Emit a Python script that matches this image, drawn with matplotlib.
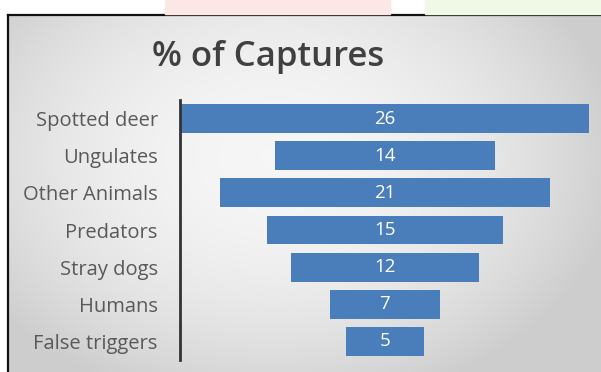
import matplotlib.pyplot as plt
import numpy as np
from matplotlib.patches import Rectangle

categories = ["Spotted deer", "Ungulates", "Other Animals", "Predators",
              "Stray dogs", "Humans", "False triggers"]
values = [26, 14, 21, 15, 12, 7, 5]

W, H = 601, 372
fig = plt.figure(figsize=(W / 100, H / 100), dpi=100)
fig.patch.set_facecolor("white")

# faint watermark blobs above the chart box
fig.patches.append(Rectangle((165 / W, 1 - 14 / H), 225 / W, 14 / H,
                             transform=fig.transFigure, color="#fde6e6", zorder=0))
fig.patches.append(Rectangle((425 / W, 1 - 14 / H), 176 / W, 14 / H,
                             transform=fig.transFigure, color="#eff9e6", zorder=0))

# chart box with radial gray gradient
bx0, by1 = 8 / W, 1 - 15 / H
bg = fig.add_axes([bx0, 0, 1 - bx0, by1])
gx, gy = np.meshgrid(np.linspace(-1, 1, 300), np.linspace(-1, 1, 200))
r = np.clip(np.sqrt(((gx + 0.1) * 0.85) ** 2 + ((gy - 0.2) * 0.7) ** 2), 0, 1)
shade = 0.965 - 0.16 * r ** 2
bg.imshow(np.dstack([shade] * 3), extent=[0, 1, 0, 1], aspect="auto", origin="lower")
bg.set_xlim(0, 1)
bg.set_ylim(0, 1)
bg.set_xticks([])
bg.set_yticks([])
for side in ["right", "bottom"]:
    bg.spines[side].set_visible(False)
for side in ["left", "top"]:
    bg.spines[side].set_color("#111111")
    bg.spines[side].set_linewidth(1.6)

fig.text(268 / W, 1 - 57 / H, "% of Captures", ha="center", va="center",
         fontsize=25, fontfamily="Open Sans", fontweight="semibold", color="#404040")

# funnel axes
ax = fig.add_axes([180 / W, 1 - 360 / H, (590 - 180) / W, (360 - 100) / H])
ax.patch.set_alpha(0)
maxv = max(values)
y = np.arange(len(categories))
left = [(maxv - v) / 2 for v in values]
ax.barh(y, values, left=left, height=0.78, color="#4a7ebb")
for yi, v in zip(y, values):
    ax.text(maxv / 2, yi, str(v), ha="center", va="center", color="white",
            fontsize=13.5, fontfamily="Open Sans")
ax.set_xlim(-0.05, maxv + 0.05)
ax.set_ylim(len(categories) - 0.5, -0.5)
ax.set_yticks(y)
ax.set_yticklabels(categories, fontsize=14.5, fontfamily="Open Sans", color="#595959")
ax.tick_params(axis="y", length=0, pad=16)
ax.set_xticks([])
for side in ["right", "top", "bottom"]:
    ax.spines[side].set_visible(False)
ax.spines["left"].set_color("#333333")
ax.spines["left"].set_linewidth(2)

fig.savefig("out.png", dpi=100)
